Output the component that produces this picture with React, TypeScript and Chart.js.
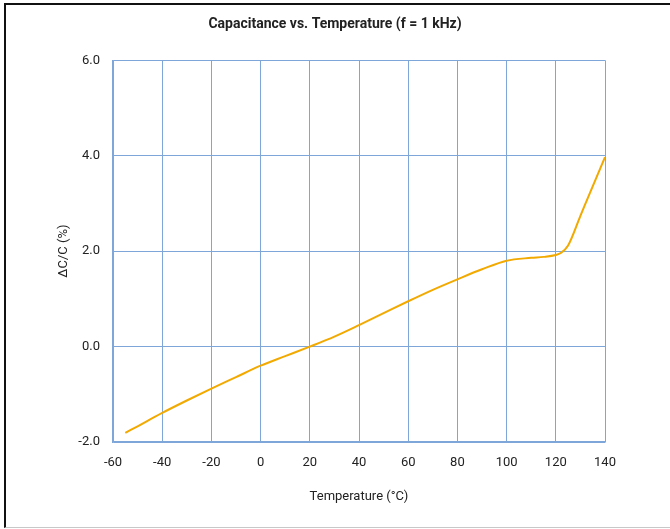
import React, { useEffect, useRef } from "react";
import { Chart, registerables } from "chart.js";

Chart.register(...registerables);

const temps = [-55, -50, -40, -30, -20, -10, 0, 10, 20, 30, 40, 50, 60, 70, 80, 90, 100, 110, 115, 120, 122, 125, 130, 135, 140];
const deltaC = [-1.81, -1.67, -1.39, -1.13, -0.88, -0.64, -0.40, -0.20, 0.0, 0.21, 0.45, 0.70, 0.95, 1.19, 1.41, 1.62, 1.80, 1.86, 1.88, 1.92, 1.96, 2.12, 2.74, 3.36, 3.97];

const titleText = "Capacitance vs. Temperature (f = 1 kHz)";
const xTitle = "Temperature (°C)";
const yTitle = "ΔC/C (%)";

const FONT = "Roboto, 'DejaVu Sans', sans-serif";
const GRID = "#7fa6d8";

export default function App() {
  const ref = useRef<HTMLCanvasElement | null>(null);
  useEffect(() => {
    if (!ref.current) return;
    const chart = new Chart(ref.current, {
      type: "line",
      data: {
        datasets: [
          {
            data: temps.map((t, i) => ({ x: t, y: deltaC[i] })),
            borderColor: "#f2a900",
            borderWidth: 2,
            pointRadius: 0,
            cubicInterpolationMode: "monotone",
            fill: false,
          },
        ],
      },
      options: {
        animation: false,
        responsive: false,
        maintainAspectRatio: false,
        layout: { padding: { left: 0, right: 0, top: 0, bottom: 0 } },
        plugins: {
          legend: { display: false },
          tooltip: { enabled: false },
          title: {
            display: true,
            text: titleText,
            color: "#222",
            font: { family: FONT, size: 14, weight: "bold" },
            padding: { top: 16, bottom: 27.5 },
          },
        },
        scales: {
          x: {
            type: "linear",
            min: -60,
            max: 140,
            afterFit: (s: any) => {
              s.height = 87;
            },
            ticks: {
              stepSize: 20,
              color: "#222",
              font: { family: FONT, size: 13 },
              padding: 13,
              maxRotation: 0,
            },
            grid: { color: GRID, lineWidth: 1, drawTicks: false },
            border: { color: GRID, width: 1.5 },
            title: {
              display: true,
              text: xTitle,
              color: "#222",
              font: { family: FONT, size: 13 },
              padding: { top: 0, bottom: 24 },
            },
          },
          y: {
            min: -2,
            max: 6,
            afterFit: (s: any) => {
              s.width = 113;
            },
            ticks: {
              stepSize: 2,
              color: "#222",
              font: { family: FONT, size: 13 },
              padding: 13,
              callback: (v: any) => Number(v).toFixed(1),
            },
            grid: { color: GRID, lineWidth: 1, drawTicks: false },
            border: { color: GRID, width: 1.5 },
            title: {
              display: true,
              text: yTitle,
              color: "#222",
              font: { family: FONT, size: 13 },
              padding: { top: 56, bottom: 0 },
            },
          },
          yRight: {
            position: "right",
            min: -2,
            max: 6,
            afterFit: (s: any) => {
              s.width = 65;
            },
            ticks: { display: false },
            grid: { drawOnChartArea: false, drawTicks: false },
            border: { display: false },
          },
        },
      },
    });
    return () => chart.destroy();
  }, []);

  return (
    <div style={{ position: "fixed", left: 0, top: 0, width: 670, height: 529, background: "#fff" }}>
      <div
        style={{
          position: "absolute",
          left: 4,
          top: 3,
          right: 0,
          bottom: 1,
          borderTop: "2px solid #111",
          borderLeft: "2px solid #111",
          borderBottom: "1px solid #c8c8c8",
        }}
      />
      <canvas ref={ref} width={670} height={529} style={{ position: "absolute", left: 0, top: 0 }} />
    </div>
  );
}
